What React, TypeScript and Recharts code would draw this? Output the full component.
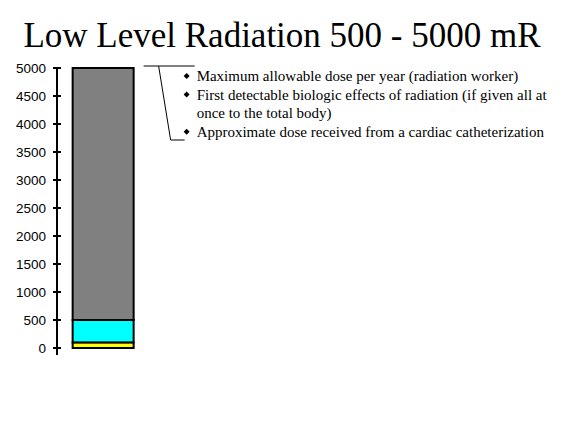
import React from 'react';
import { BarChart, Bar, XAxis, YAxis } from 'recharts';

const categories = ['Dose'];
const catheterValues = [100];
const biologicValues = [400];
const maximumValues = [4500];
const yTicks = [0, 500, 1000, 1500, 2000, 2500, 3000, 3500, 4000, 4500, 5000];
const title = 'Low Level Radiation 500 - 5000 mR';
const notes = [
  ['Maximum allowable dose per year (radiation worker)'],
  ['First detectable biologic effects of radiation (if given all at', 'once to the total body)'],
  ['Approximate dose received from a cardiac catheterization'],
];

const data = categories.map((c, i) => ({
  name: c,
  low: catheterValues[i],
  mid: biologicValues[i],
  high: maximumValues[i],
}));

const SERIF = 'Liberation Serif';
const SANS = 'Liberation Sans';

const LeftTick = (props: any) => {
  const { x, y, payload } = props;
  return (
    <g>
      <line x1={x - 4} x2={x + 4} y1={y} y2={y} stroke="#000" strokeWidth={2} />
      {payload.value === 0 && <line x1={x} x2={x} y1={y} y2={y + 7} stroke="#000" strokeWidth={2} />}
      <text x={x - 11} y={y} textAnchor="end" dominantBaseline="central" fontFamily={SANS} fontSize={13.5} fill="#000">
        {payload.value}
      </text>
    </g>
  );
};

const RightTick = (props: any) => {
  const { x, y } = props;
  return <line x1={x} x2={x} y1={y - 7} y2={y + 7} stroke="#000" strokeWidth={2} />;
};

const TopShape = (props: any) => {
  const { x, y, width, height, fill } = props;
  const right = x + width;
  const flat: { text: string; bullet: boolean }[] = [];
  notes.forEach((n) => n.forEach((t, j) => flat.push({ text: t, bullet: j === 0 })));
  return (
    <g>
      <rect x={x} y={y} width={width} height={height} fill={fill} stroke="#000" strokeWidth={2} />
      <path
        d={`M${right + 10},${y - 2}H${right + 61}M${right + 25},${y - 2}L${right + 37},${y + 72}H${right + 51}`}
        stroke="#000"
        strokeWidth={1}
        fill="none"
      />
      {flat.map((f, i) => {
        const by = y + 13 + i * 18.6;
        const dx = right + 53;
        const dy = by - 5;
        return (
          <g key={i}>
            {f.bullet && (
              <polygon points={`${dx - 3},${dy} ${dx},${dy - 3} ${dx + 3},${dy} ${dx},${dy + 3}`} fill="#000" />
            )}
            <text x={right + 63} y={by} fontFamily={SERIF} fontSize={15} fill="#000">
              {f.text}
            </text>
          </g>
        );
      })}
    </g>
  );
};

const BoxShape = (props: any) => {
  const { x, y, width, height, fill } = props;
  return <rect x={x} y={y} width={width} height={height} fill={fill} stroke="#000" strokeWidth={2} />;
};

export default function App() {
  return (
    <div style={{ position: 'absolute', left: 0, top: 0, width: 580, height: 435, background: '#fff' }}>
      <BarChart
        width={580}
        height={435}
        data={data}
        margin={{ top: 68, right: 431, bottom: 87, left: 7 }}
        barCategoryGap="17%"
      >
        <XAxis dataKey="name" height={0} tick={false} tickLine={false} axisLine={{ stroke: '#000', strokeWidth: 2 }} />
        <YAxis
          domain={[0, 5000]}
          ticks={yTicks}
          interval={0}
          width={50}
          tickSize={0}
          tickMargin={0}
          tickLine={false}
          axisLine={{ stroke: '#000', strokeWidth: 2 }}
          tick={<LeftTick />}
        />
        <YAxis
          yAxisId="right"
          orientation="right"
          domain={[0, 5000]}
          ticks={[0]}
          width={0}
          tickSize={0}
          tickMargin={0}
          tickLine={false}
          axisLine={false}
          tick={<RightTick />}
        />
        <Bar dataKey="low" stackId="a" fill="#FFFF00" shape={<BoxShape />} isAnimationActive={false} />
        <Bar dataKey="mid" stackId="a" fill="#00FFFF" shape={<BoxShape />} isAnimationActive={false} />
        <Bar dataKey="high" stackId="a" fill="#808080" shape={<TopShape />} isAnimationActive={false} />
      </BarChart>
      <svg width={580} height={60} style={{ position: 'absolute', left: 0, top: 0, pointerEvents: 'none' }}>
        <text x={282} y={47} textAnchor="middle" fontFamily={SERIF} fontSize={35} fill="#000">
          {title}
        </text>
      </svg>
    </div>
  );
}
